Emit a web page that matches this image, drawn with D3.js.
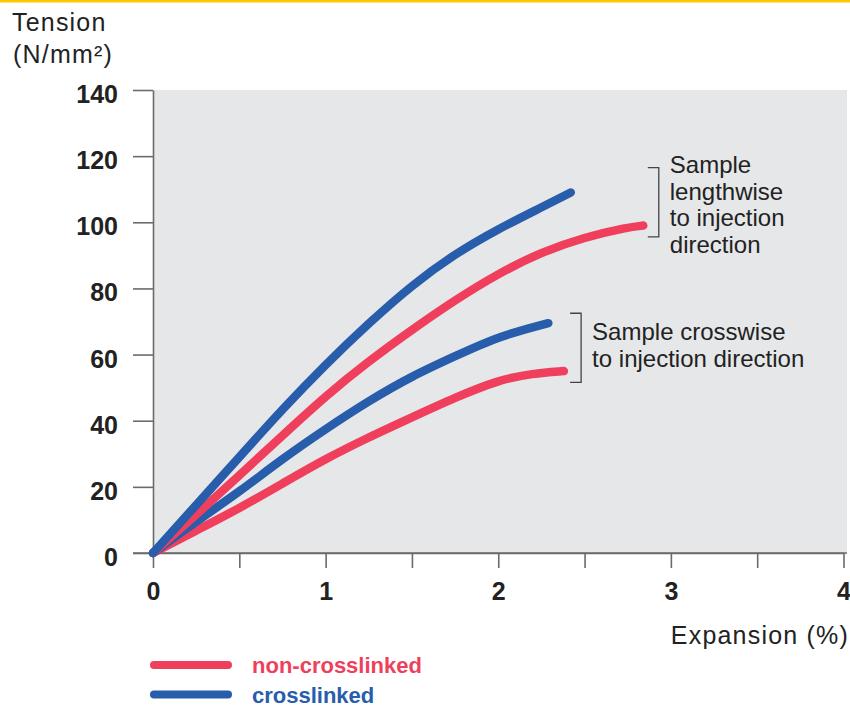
<!DOCTYPE html>
<html>
<head>
<meta charset="utf-8">
<script src="https://cdn.jsdelivr.net/npm/d3@7"></script>
<style>
  body { margin: 0; background: #fff; }
  svg text { font-family: "Liberation Sans", Arial, Helvetica, sans-serif; fill: #222; }
</style>
</head>
<body>
<div id="chart"></div>
<script>
// Data (expansion %, tension N/mm²)
const lengthCross = [[0, 0], [0.25, 14.5], [0.5, 29], [0.75, 43.5], [1, 57], [1.25, 69.5], [1.5, 81], [1.75, 90.5], [2, 98], [2.25, 104.5], [2.42, 109]];
const lengthNon = [[0, 0], [0.25, 11.5], [0.5, 23.5], [0.75, 35.5], [1, 47.5], [1.25, 58], [1.5, 67.5], [1.75, 76.5], [2, 84.5], [2.25, 91], [2.5, 95.5], [2.75, 98.5], [2.84, 99]];
const crossCross = [[0, 0], [0.25, 9.5], [0.5, 18.5], [0.75, 28.5], [1, 37.5], [1.25, 46], [1.5, 53.5], [1.75, 59.5], [2, 65.5], [2.29, 69.5]];
const crossNon = [[0, 0], [0.25, 6.8], [0.5, 13.5], [0.75, 21], [1, 28.5], [1.25, 35], [1.5, 41], [1.75, 47], [2, 52.3], [2.2, 54.3], [2.38, 55]];

const xTicks = [0, 0.5, 1, 1.5, 2, 2.5, 3, 3.5, 4];
const xLabels = [0, 1, 2, 3, 4];
const yTicks = [0, 20, 40, 60, 80, 100, 120, 140];

const legendItems = [
  { name: 'non-crosslinked', color: '#ef3f5c' },
  { name: 'crosslinked', color: '#275dab' }
];

// annotation brackets, in data units: x, y top, y bottom, text lines
const brackets = [
  { x: 2.93, y0: 116.5, y1: 95.6, lines: ['Sample', 'lengthwise', 'to injection', 'direction'], top: 173 },
  { x: 2.48, y0: 72.5, y1: 51.6, lines: ['Sample crosswise', 'to injection direction'], top: 340 }
];

const width = 850, height = 707;
const red = legendItems[0].color, blue = legendItems[1].color;

const svg = d3.select('#chart').append('svg')
  .attr('width', width)
  .attr('height', height);

// yellow rule at the top
svg.append('rect')
  .attr('x', 0).attr('y', 0)
  .attr('width', width).attr('height', 2.5)
  .attr('fill', '#fdc800');

const x = d3.scaleLinear().domain([0, 4]).range([153, 843.5]);
const y = d3.scaleLinear().domain([0, 140]).range([553, 90]);

// plot panel
svg.append('rect')
  .attr('x', x(0)).attr('y', y(140))
  .attr('width', 847 - x(0)).attr('height', y(0) - y(140))
  .attr('fill', '#e6e7e9');

const axisColor = '#6b6b6b';

// y axis
const yAxis = svg.append('g')
  .attr('transform', `translate(${x(0)},0)`)
  .call(d3.axisLeft(y).tickValues(yTicks).tickSize(20).tickPadding(15).tickSizeOuter(0));
yAxis.select('.domain').attr('stroke', axisColor).attr('stroke-width', 1.6);
yAxis.selectAll('.tick line').attr('stroke', axisColor).attr('stroke-width', 1.6);
yAxis.selectAll('.tick text')
  .attr('font-size', 25).attr('font-weight', 'bold')
  .attr('font-family', '"Liberation Sans", Arial, sans-serif')
  .attr('fill', '#222')
  .attr('dy', '0.5em');

// x axis
const xAxis = svg.append('g')
  .attr('transform', `translate(0,${y(0)})`)
  .call(d3.axisBottom(x).tickValues(xTicks).tickSize(15).tickFormat(d => xLabels.includes(d) ? d : '').tickPadding(14).tickSizeOuter(0));
xAxis.select('.domain').attr('stroke', axisColor).attr('stroke-width', 1.6);
xAxis.selectAll('.tick line').attr('stroke', axisColor).attr('stroke-width', 1.6);
xAxis.selectAll('.tick text')
  .attr('font-size', 25).attr('font-weight', 'bold')
  .attr('font-family', '"Liberation Sans", Arial, sans-serif')
  .attr('fill', '#222');

// extend x axis baseline to the left over the 0 tick and right to the panel edge
svg.append('line')
  .attr('x1', x(0) - 20).attr('x2', 847)
  .attr('y1', y(0)).attr('y2', y(0))
  .attr('stroke', axisColor).attr('stroke-width', 1.6);

// axis titles
svg.append('text').attr('x', 12).attr('y', 31)
  .attr('font-size', 25).attr('letter-spacing', 1.2).text('Tension');
svg.append('text').attr('x', 13).attr('y', 63)
  .attr('font-size', 25).attr('letter-spacing', 1.2).text('(N/mm²)');
svg.append('text').attr('x', 849).attr('y', 644)
  .attr('text-anchor', 'end')
  .attr('font-size', 25).attr('letter-spacing', 1.2).text('Expansion (%)');

// curves
const line = d3.line()
  .x(d => x(d[0]))
  .y(d => y(d[1]))
  .curve(d3.curveBasis);

const series = [
  { data: crossNon, color: red },
  { data: crossCross, color: blue },
  { data: lengthNon, color: red },
  { data: lengthCross, color: blue }
];

svg.selectAll('path.curve')
  .data(series)
  .enter()
  .append('path')
  .attr('class', 'curve')
  .attr('d', d => line(d.data))
  .attr('fill', 'none')
  .attr('stroke', d => d.color)
  .attr('stroke-width', 8.5)
  .attr('stroke-linecap', 'round');

// brackets and notes
brackets.forEach(b => {
  const bx = x(b.x);
  svg.append('path')
    .attr('d', `M${bx - 11},${y(b.y0)}H${bx}V${y(b.y1)}H${bx - 11}`)
    .attr('fill', 'none')
    .attr('stroke', '#444')
    .attr('stroke-width', 1.3);
  const t = svg.append('text')
    .attr('x', bx + 11)
    .attr('y', b.top)
    .attr('font-size', 24)
    .attr('fill', '#222');
  b.lines.forEach((l, i) => {
    t.append('tspan').attr('x', bx + 11).attr('dy', i === 0 ? 0 : 26.5).text(l);
  });
});

// legend
const legend = svg.append('g');
legendItems.forEach((d, i) => {
  const ly = 665 + i * 29.5;
  legend.append('line')
    .attr('x1', 154).attr('x2', 228)
    .attr('y1', ly).attr('y2', ly)
    .attr('stroke', d.color)
    .attr('stroke-width', 8)
    .attr('stroke-linecap', 'round');
  legend.append('text')
    .attr('x', 252).attr('y', ly + 8)
    .attr('font-size', 22).attr('font-weight', 'bold')
    .style('fill', d.color)
    .text(d.name);
});
</script>
</body>
</html>
